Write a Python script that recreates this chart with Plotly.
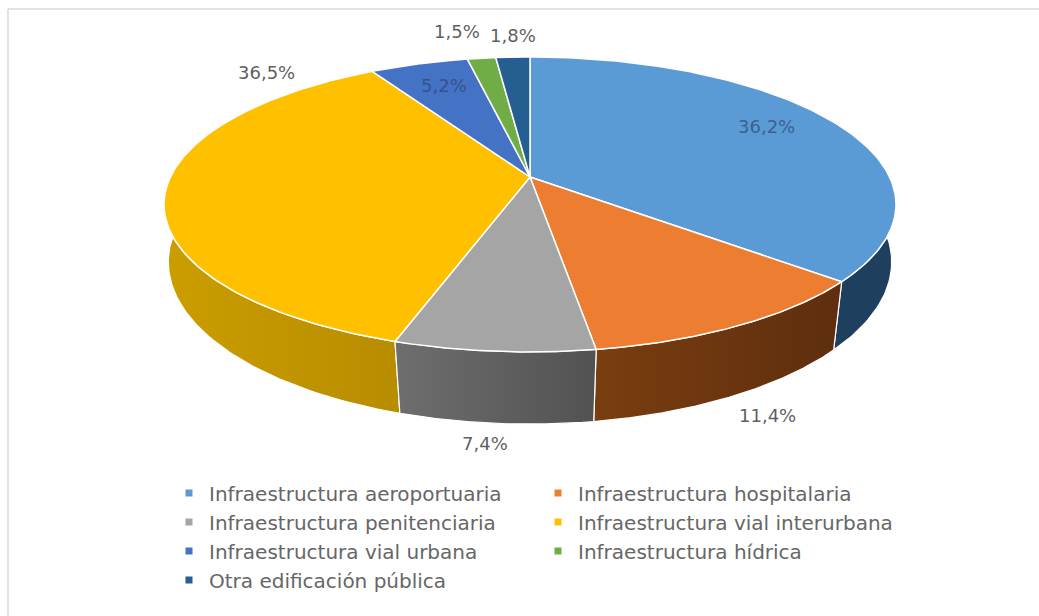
import numpy as np
import plotly.graph_objects as go

categories = ["Infraestructura aeroportuaria", "Infraestructura hospitalaria",
              "Infraestructura penitenciaria", "Infraestructura vial interurbana",
              "Infraestructura vial urbana", "Infraestructura hídrica",
              "Otra edificación pública"]
values = [36.2, 11.4, 7.4, 36.5, 5.2, 1.5, 1.8]
labels = ["36,2%", "11,4%", "7,4%", "36,5%", "5,2%", "1,5%", "1,8%"]
colors = ["#5B9BD5", "#ED7D31", "#A5A5A5", "#FFC000", "#4472C4", "#70AD47", "#255E91"]
side_colors = [("#1F3F5E", "#1F3F5E"), ("#7A3E10", "#5E2E0E"), ("#6E6E6E", "#525252"),
               ("#CB9D00", "#B88C00"), None, None, None]
label_shift = [(-66, 5), (28, 90), (-9, 92), (101, -120), (25, 22), (-25, -27), (0, -22)]
label_colors = ["#3A6290", "#5F5F5F", "#5F5F5F", "#5F5F5F", "#34528F", "#5F5F5F", "#5F5F5F"]
legend_pos = [(169, 493), (538, 493), (169, 522), (538, 522), (169, 551), (538, 551), (169, 580)]

W, H = 1039, 616
CX = 530
TOP = dict(A=359.6, B=142.4, cy=177.0, k=0.186)
BOT = dict(A=357.0, B=158.0, cy=236.0, k=0.16)


def project(t_deg, r, g):
    t = np.radians(t_deg)
    u, v = r * np.sin(t), -r * np.cos(t)
    d = 1 - g["k"] * v
    return CX + g["A"] * u / d, g["cy"] + g["B"] * v / d


total = sum(values)
edges = np.concatenate([[0], np.cumsum(values) / total * 360])
fig = go.Figure()

# side walls, back to front
for i in [0, 3, 1, 2]:
    t0, t1 = edges[i], edges[i + 1]
    ts = np.linspace(t0, t1, 120)
    ts = ts[np.cos(np.radians(ts)) < 0.3]
    xt, yt = project(ts, 1, TOP)
    xb, yb = project(ts, 1, BOT)
    c1, c2 = side_colors[i]
    fig.add_trace(go.Scatter(
        x=np.concatenate([xt, xb[::-1], xt[:1]]), y=np.concatenate([yt, yb[::-1], yt[:1]]),
        mode="lines", line=dict(color="#FFFFFF", width=1.2), fill="toself",
        fillgradient=dict(type="horizontal", colorscale=[[0, c1], [1, c2]]),
        hoverinfo="skip", showlegend=False))

# top face
for i in range(len(values)):
    ts = np.linspace(edges[i], edges[i + 1], 160)
    x, y = project(ts, 1, TOP)
    cx0, cy0 = project(0.0, 0, TOP)
    fig.add_trace(go.Scatter(
        x=np.concatenate([[cx0], x, [cx0]]), y=np.concatenate([[cy0], y, [cy0]]),
        mode="lines", line=dict(color="#FFFFFF", width=1.5), fill="toself",
        fillcolor=colors[i], hoverinfo="skip", showlegend=False))

# legend entries: one legend per entry, for exact row spacing
layout_legends = {}
for i, name in enumerate(categories):
    key = "legend" if i == 0 else f"legend{i + 1}"
    fig.add_trace(go.Scatter(x=[None], y=[None], mode="markers", name=name, legend=key,
                             marker=dict(symbol="square", size=7, color=colors[i]),
                             showlegend=True))
    px, py = legend_pos[i]
    layout_legends[key] = dict(x=px / W, y=1 - py / H, xanchor="left", yanchor="middle",
                               bgcolor="rgba(0,0,0,0)", itemclick=False, itemdoubleclick=False,
                               font=dict(family="DejaVu Sans", size=20, color="#666666"))

annotations = []
for i, text in enumerate(labels):
    mid = (edges[i] + edges[i + 1]) / 2
    ax, ay = project(mid, 1, TOP)
    dx, dy = label_shift[i]
    annotations.append(dict(x=float(ax), y=float(ay), xref="x", yref="y", text=text, showarrow=False,
                            xshift=dx, yshift=-dy,
                            font=dict(family="DejaVu Sans", size=18, color=label_colors[i])))

border = "#D9D9D9"
fig.update_layout(
    width=W, height=H, margin=dict(l=0, r=0, t=0, b=0),
    paper_bgcolor="#FFFFFF", plot_bgcolor="#FFFFFF",
    xaxis=dict(range=[0, W], visible=False, fixedrange=True),
    yaxis=dict(range=[H, 0], visible=False, fixedrange=True),
    annotations=annotations,
    shapes=[dict(type="line", xref="x", yref="y", x0=8, x1=W, y0=9, y1=9, line=dict(color=border, width=1.5)),
            dict(type="line", xref="x", yref="y", x0=8, x1=8, y0=9, y1=H, line=dict(color=border, width=1.5))],
    **layout_legends)
fig.write_html("out.html", post_script="document.body.style.margin='0';",
               config={"displayModeBar": False})
